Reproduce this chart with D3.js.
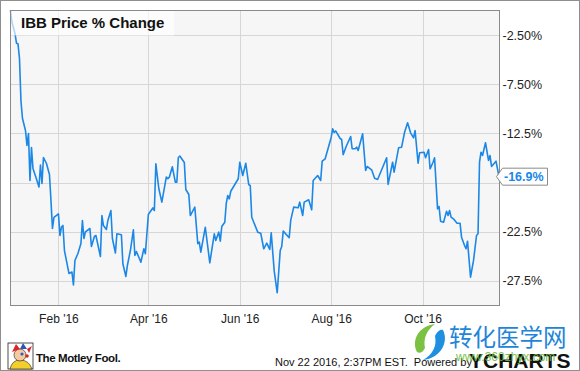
<!DOCTYPE html>
<html lang="en">
<head>
<meta charset="UTF-8">
<title>IBB Price % Change</title>
<script src="https://d3js.org/d3.v7.min.js"></script>
<style>
  body { margin: 0; background: #fff; }
  svg { display: block; font-family: "Liberation Sans", Arial, sans-serif; }
</style>
</head>
<body>
<script>
// IBB price % change, 2015-12-31 .. 2016-11-21
const dates = [
  "2015-12-31","2016-01-01","2016-01-03","2016-01-04","2016-01-05","2016-01-06","2016-01-07","2016-01-08",
  "2016-01-10","2016-01-11","2016-01-12","2016-01-13","2016-01-14","2016-01-15","2016-01-17","2016-01-19",
  "2016-01-20","2016-01-21","2016-01-22","2016-01-24","2016-01-26","2016-01-27","2016-01-28","2016-01-29",
  "2016-02-01","2016-02-02","2016-02-03","2016-02-04","2016-02-05","2016-02-08","2016-02-10","2016-02-11",
  "2016-02-12","2016-02-14","2016-02-16","2016-02-17","2016-02-18","2016-02-19","2016-02-22","2016-02-23",
  "2016-02-25","2016-02-26","2016-02-29","2016-03-01","2016-03-02","2016-03-04","2016-03-05","2016-03-07",
  "2016-03-08","2016-03-10","2016-03-11","2016-03-14","2016-03-15","2016-03-17","2016-03-18","2016-03-20",
  "2016-03-22","2016-03-23","2016-03-24","2016-03-26","2016-03-27","2016-03-29","2016-03-30","2016-04-01",
  "2016-04-02","2016-04-04","2016-04-05","2016-04-06","2016-04-08","2016-04-10","2016-04-13","2016-04-14",
  "2016-04-15","2016-04-17","2016-04-19","2016-04-20","2016-04-21","2016-04-22","2016-04-25","2016-04-26",
  "2016-04-28","2016-04-29","2016-05-02","2016-05-04","2016-05-05","2016-05-06","2016-05-09","2016-05-12",
  "2016-05-15","2016-05-16","2016-05-18","2016-05-19","2016-05-20","2016-05-22","2016-05-23","2016-05-24",
  "2016-05-25","2016-05-26","2016-05-31","2016-06-01","2016-06-03","2016-06-05","2016-06-07","2016-06-08",
  "2016-06-09","2016-06-13","2016-06-15","2016-06-17","2016-06-19","2016-06-21","2016-06-22","2016-06-24",
  "2016-06-26","2016-06-28","2016-06-29","2016-06-30","2016-07-04","2016-07-05","2016-07-07","2016-07-10",
  "2016-07-11","2016-07-13","2016-07-14","2016-07-17","2016-07-19","2016-07-20","2016-07-23","2016-07-25",
  "2016-07-26","2016-07-28","2016-08-01","2016-08-02","2016-08-03","2016-08-04","2016-08-07","2016-08-08",
  "2016-08-09","2016-08-11","2016-08-14","2016-08-15","2016-08-17","2016-08-18","2016-08-19","2016-08-22",
  "2016-08-24","2016-08-25","2016-08-28","2016-08-30","2016-09-01","2016-09-07","2016-09-08","2016-09-11",
  "2016-09-12","2016-09-15","2016-09-17","2016-09-19","2016-09-21","2016-09-23","2016-09-25","2016-09-26",
  "2016-09-28","2016-09-29","2016-10-02","2016-10-03","2016-10-05","2016-10-06","2016-10-08","2016-10-09",
  "2016-10-11","2016-10-12","2016-10-13","2016-10-15","2016-10-17","2016-10-18","2016-10-19","2016-10-20",
  "2016-10-22","2016-10-24","2016-10-26","2016-10-27","2016-10-29","2016-10-30","2016-10-31","2016-11-02",
  "2016-11-04","2016-11-06","2016-11-07","2016-11-08","2016-11-09","2016-11-10","2016-11-12","2016-11-14",
  "2016-11-15","2016-11-16","2016-11-19","2016-11-21"
];
const values = [
  0.00, -1.22, -2.34, -3.33, -3.39, -4.88, -9.25, -10.98,
  -12.20, -13.73, -12.51, -17.29, -13.93, -16.07, -16.98, -17.95,
  -15.71, -17.59, -14.95, -15.56, -16.68, -19.32, -22.17, -21.05,
  -20.69, -22.88, -22.02, -21.86, -24.41, -26.74, -26.59, -27.91,
  -25.42, -24.71, -23.69, -21.35, -23.19, -22.52, -22.17, -24.00,
  -22.98, -22.88, -25.02, -20.85, -21.86, -22.27, -21.35, -20.34,
  -23.19, -24.66, -22.71, -22.81, -25.76, -27.05, -25.93, -24.41,
  -22.30, -24.91, -24.51, -25.22, -25.60, -24.23, -24.74, -20.74,
  -20.51, -20.08, -20.34, -15.59, -18.13, -19.49, -16.93, -17.11,
  -16.95, -15.89, -17.46, -17.46, -14.95, -14.80, -15.46, -18.20,
  -18.71, -20.85, -20.00, -23.72, -23.56, -24.58, -22.04, -25.66,
  -22.71, -23.39, -22.54, -23.46, -21.97, -21.53, -19.60, -18.81,
  -19.15, -18.38, -17.11, -15.43, -16.78, -15.53, -17.72, -17.80,
  -21.02, -22.54, -22.65, -24.23, -23.66, -24.30, -22.61, -26.51,
  -28.71, -24.41, -24.00, -22.44, -23.11, -21.35, -20.00, -20.06,
  -19.49, -20.85, -19.49, -19.25, -20.27, -17.29, -16.78, -17.29,
  -15.32, -15.08, -12.91, -12.03, -12.41, -12.25, -13.02, -13.12,
  -14.67, -13.83, -12.81, -14.06, -14.06, -13.90, -14.24, -12.54,
  -16.27, -15.86, -16.20, -17.05, -17.19, -14.98, -17.69, -15.43,
  -16.44, -13.96, -13.90, -12.38, -11.42, -12.44, -12.95, -12.20,
  -15.53, -14.47, -14.41, -14.98, -14.14, -16.10, -15.43, -14.98,
  -20.17, -19.93, -21.43, -21.53, -20.41, -20.85, -20.34, -21.02,
  -21.25, -21.63, -21.63, -23.05, -23.90, -24.23, -23.46, -27.12,
  -25.42, -22.88, -22.71, -15.43, -14.41, -14.75, -13.45, -15.25,
  -14.75, -15.86, -15.32, -16.90
];

const yTicks = [-2.5, -7.5, -12.5, -17.5, -22.5, -27.5];
const yTickLabels = ["-2.50%", "-7.50%", "-12.5%", "", "-22.5%", "-27.5%"];
const xTicks = ["2016-02-01", "2016-04-01", "2016-06-01", "2016-08-01", "2016-10-01"];
const xTickLabels = ["Feb '16", "Apr '16", "Jun '16", "Aug '16", "Oct '16"];
const titleText = "IBB Price % Change";
const lastLabel = "-16.9%";
const stampText = "Nov 22 2016, 2:37PM EST.  Powered by";

const width = 580, height = 371;
const plot = { left: 10.5, right: 499.5, top: 10.5, bottom: 305.5 };
const lineColor = "#1b87e6";

const parse = d3.timeParse("%Y-%m-%d");
const data = dates.map((d, i) => ({ date: parse(d), value: values[i] }));

const svg = d3.select("body").append("svg")
  .attr("width", width)
  .attr("height", height);

// outer frame
svg.append("rect")
  .attr("x", 0.5).attr("y", 0.5)
  .attr("width", width - 1).attr("height", height - 1)
  .attr("fill", "#fff")
  .attr("stroke", "#8f8f8f");

const x = d3.scaleTime()
  .domain([parse("2015-12-31"), parse("2016-11-21")])
  .range([plot.left, plot.right - 0.5]);

const y = d3.scaleLinear()
  .domain([-30, 0])
  .range([plot.bottom, plot.top]);

// plot background
svg.append("rect")
  .attr("x", plot.left).attr("y", plot.top)
  .attr("width", plot.right - plot.left)
  .attr("height", plot.bottom - plot.top)
  .attr("fill", "#f6f6f6");

// grid
const grid = svg.append("g").attr("stroke", "#d6d6d6").attr("stroke-width", 1);
grid.selectAll(".hy").data(yTicks).enter().append("line")
  .attr("x1", plot.left).attr("x2", plot.right)
  .attr("y1", d => Math.round(y(d)) + 0.5)
  .attr("y2", d => Math.round(y(d)) + 0.5);
grid.selectAll(".vx").data(xTicks).enter().append("line")
  .attr("x1", d => Math.round(x(parse(d))) + 0.5)
  .attr("x2", d => Math.round(x(parse(d))) + 0.5)
  .attr("y1", plot.top).attr("y2", plot.bottom);

// price line
const line = d3.line()
  .x(d => x(d.date))
  .y(d => y(d.value));

svg.append("path")
  .datum(data)
  .attr("fill", "none")
  .attr("stroke", lineColor)
  .attr("stroke-width", 1.6)
  .attr("stroke-linejoin", "round")
  .attr("d", line);

// title box (semi transparent, sits over the line)
svg.append("rect")
  .attr("x", plot.left + 0.5).attr("y", plot.top)
  .attr("width", 163).attr("height", 25)
  .attr("fill", "#fff")
  .attr("opacity", 0.65);

svg.append("text")
  .attr("x", 21).attr("y", 28)
  .attr("font-size", 15)
  .attr("font-weight", "bold")
  .attr("fill", "#111")
  .text(titleText);

// plot border
svg.append("rect")
  .attr("x", plot.left).attr("y", plot.top)
  .attr("width", plot.right - plot.left)
  .attr("height", plot.bottom - plot.top)
  .attr("fill", "none")
  .attr("stroke", "#8a8a8a");

// y axis on the right
const yAxis = d3.axisRight(y)
  .tickValues(yTicks)
  .tickFormat((d, i) => yTickLabels[i])
  .tickSize(0)
  .tickPadding(3);

const gy = svg.append("g")
  .attr("transform", `translate(${plot.right},0)`)
  .call(yAxis);
gy.select(".domain").remove();
gy.selectAll("text")
  .attr("font-family", "Liberation Sans, Arial, sans-serif")
  .attr("font-size", 12.5)
  .attr("fill", "#222");

// x axis
const xAxis = d3.axisBottom(x)
  .tickValues(xTicks.map(parse))
  .tickFormat((d, i) => xTickLabels[i])
  .tickSize(0)
  .tickPadding(9);

const gx = svg.append("g")
  .attr("transform", `translate(0,${plot.bottom})`)
  .call(xAxis);
gx.select(".domain").remove();
gx.selectAll("text")
  .attr("font-family", "Liberation Sans, Arial, sans-serif")
  .attr("font-size", 12)
  .attr("fill", "#222");

// last value badge
const last = data[data.length - 1];
const by = y(last.value);
const bx = x(last.date);
svg.append("path")
  .attr("d", `M${bx - 2.5},${by} L${bx + 3.5},${by - 8.5} L${bx + 48.5},${by - 8.5} L${bx + 48.5},${by + 8.5} L${bx + 3.5},${by + 8.5} Z`)
  .attr("fill", "#fff")
  .attr("stroke", "#8a8a8a");
svg.append("text")
  .attr("x", bx + 5).attr("y", by + 4.5)
  .attr("font-size", 12.5)
  .attr("font-weight", "bold")
  .attr("fill", lineColor)
  .text(lastLabel);

// footer: Motley Fool logo (simplified jester)
const logo = svg.append("g").attr("transform", "translate(8,343)");
logo.append("rect").attr("width", 25).attr("height", 26).attr("fill", "#fff").attr("stroke", "#222").attr("stroke-width", 0.8);
logo.append("path").attr("d", "M2,26 Q4,17 12,17 Q21,17 24,26 Z").attr("fill", "#f2cf2a").attr("stroke", "#222").attr("stroke-width", 0.6);
logo.append("ellipse").attr("cx", 12).attr("cy", 12).attr("rx", 6).attr("ry", 6).attr("fill", "#f6c9a0").attr("stroke", "#222").attr("stroke-width", 0.6);
logo.append("path").attr("d", "M4,9 L8,1 L12,6 Z").attr("fill", "#d8262b");
logo.append("path").attr("d", "M12,6 L15,0 L19,6 Z").attr("fill", "#2d55b5");
logo.append("path").attr("d", "M19,6 L24,3 L21,10 Z").attr("fill", "#d8262b");
logo.append("circle").attr("cx", 14).attr("cy", 11).attr("r", 1.6).attr("fill", "#2b5fd0");
logo.append("circle").attr("cx", 19).attr("cy", 13).attr("r", 1.8).attr("fill", "#d8262b");

svg.append("text")
  .attr("x", 36).attr("y", 362)
  .attr("font-size", 11.5)
  .attr("font-weight", "bold")
  .attr("letter-spacing", -0.4)
  .attr("fill", "#111")
  .text("The Motley Fool.");

// timestamp
svg.append("text")
  .attr("x", 275).attr("y", 366)
  .attr("font-size", 11)
  .attr("fill", "#111")
  .attr("xml:space", "preserve")
  .style("white-space", "pre")
  .text(stampText);

// watermark leaf
const leaf = svg.append("g").attr("transform", "translate(413,322)");
leaf.append("path").attr("d", "M4,30 C-2,18 6,4 22,2 C14,8 10,16 12,26 C10,30 7,32 4,30 Z").attr("fill", "#7cc242");
leaf.append("path").attr("d", "M30,8 C36,20 28,36 10,38 C20,32 24,24 22,14 C24,10 27,7 30,8 Z").attr("fill", "#1f8fe0");

svg.append("text")
  .attr("x", 449).attr("y", 346)
  .attr("font-family", "Noto Sans CJK SC, sans-serif")
  .attr("font-size", 23.5)
  .attr("fill", "#1f85d8")
  .text("转化医学网");

// YCharts
svg.append("text")
  .attr("x", 469).attr("y", 368)
  .attr("font-size", 21)
  .attr("font-weight", "bold")
  .attr("fill", "#111")
  .text("YCHARTS");

svg.append("text")
  .attr("x", 456).attr("y", 361)
  .attr("font-size", 12)
  .attr("fill", "#6dbb3c")
  .attr("opacity", 0.9)
  .text("www.360zhyx.com");
</script>
</body>
</html>
